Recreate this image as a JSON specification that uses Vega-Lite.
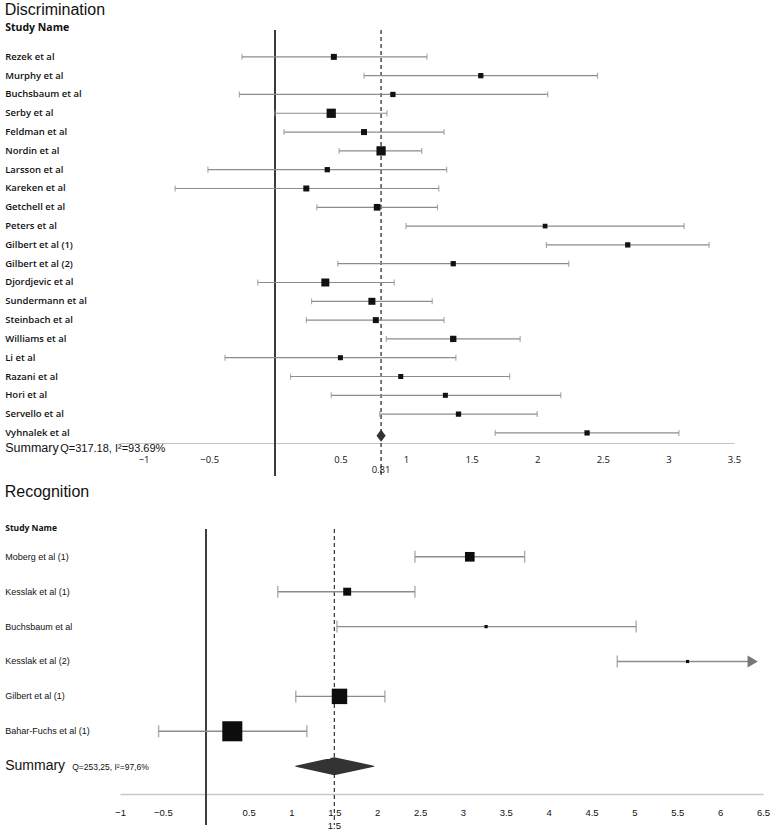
{
  "$schema": "https://vega.github.io/schema/vega-lite/v6.json",
  "background": "white",
  "padding": {"left": 4, "top": 2, "right": 0, "bottom": 0},
  "columns": 1,
  "spacing": 6,
  "config": {"view": {"stroke": null}},
  "datasets": {
    "disc": [
      {"study": "Rezek et al", "type": "study", "lower": -0.25, "est": 0.45, "upper": 1.16, "weight": 4.4},
      {"study": "Murphy et al", "type": "study", "lower": 0.68, "est": 1.57, "upper": 2.46, "weight": 3.4},
      {"study": "Buchsbaum et al", "type": "study", "lower": -0.27, "est": 0.9, "upper": 2.08, "weight": 3.4},
      {"study": "Serby et al", "type": "study", "lower": 0.0, "est": 0.43, "upper": 0.855, "weight": 10.5},
      {"study": "Feldman et al", "type": "study", "lower": 0.07, "est": 0.68, "upper": 1.29, "weight": 4.4},
      {"study": "Nordin et al", "type": "study", "lower": 0.49, "est": 0.81, "upper": 1.12, "weight": 10.5},
      {"study": "Larsson et al", "type": "study", "lower": -0.51, "est": 0.4, "upper": 1.31, "weight": 3.4},
      {"study": "Kareken et al", "type": "study", "lower": -0.76, "est": 0.24, "upper": 1.25, "weight": 4.4},
      {"study": "Getchell et al", "type": "study", "lower": 0.32, "est": 0.78, "upper": 1.24, "weight": 5.5},
      {"study": "Peters et al", "type": "study", "lower": 1.0, "est": 2.06, "upper": 3.12, "weight": 2.7},
      {"study": "Gilbert et al (1)", "type": "study", "lower": 2.07, "est": 2.69, "upper": 3.31, "weight": 3.4},
      {"study": "Gilbert et al (2)", "type": "study", "lower": 0.48, "est": 1.36, "upper": 2.24, "weight": 3.4},
      {"study": "Djordjevic et al", "type": "study", "lower": -0.13, "est": 0.385, "upper": 0.91, "weight": 7.8},
      {"study": "Sundermann et al", "type": "study", "lower": 0.28, "est": 0.74, "upper": 1.2, "weight": 6.0},
      {"study": "Steinbach et al", "type": "study", "lower": 0.24, "est": 0.77, "upper": 1.29, "weight": 4.4},
      {"study": "Williams et al", "type": "study", "lower": 0.85, "est": 1.36, "upper": 1.87, "weight": 4.9},
      {"study": "Li et al", "type": "study", "lower": -0.38, "est": 0.5, "upper": 1.38, "weight": 3.1},
      {"study": "Razani et al", "type": "study", "lower": 0.12, "est": 0.96, "upper": 1.79, "weight": 3.1},
      {"study": "Hori et al", "type": "study", "lower": 0.43, "est": 1.3, "upper": 2.18, "weight": 3.1},
      {"study": "Servello et al", "type": "study", "lower": 0.8, "est": 1.4, "upper": 2.0, "weight": 3.4},
      {"study": "Vyhnalek et al", "type": "study", "lower": 1.68, "est": 2.38, "upper": 3.08, "weight": 3.4},
      {"study": "Summary", "type": "summary", "lower": 0.775, "est": 0.81, "upper": 0.845}
    ],
    "rec": [
      {"study": "Moberg et al (1)", "type": "study", "lower": 2.44, "est": 3.08, "upper": 3.72, "weight": 11.4},
      {"study": "Kesslak et al (1)", "type": "study", "lower": 0.84, "est": 1.65, "upper": 2.44, "weight": 7.7},
      {"study": "Buchsbaum et al", "type": "study", "lower": 1.53, "est": 3.27, "upper": 5.02, "weight": 1.3},
      {"study": "Kesslak et al (2)", "type": "study", "lower": 4.8, "est": 5.62, "upper": 6.38, "weight": 1.2, "truncated": true},
      {"study": "Gilbert et al (1)", "type": "study", "lower": 1.05, "est": 1.56, "upper": 2.09, "weight": 29.2},
      {"study": "Bahar-Fuchs et al (1)", "type": "study", "lower": -0.55, "est": 0.31, "upper": 1.18, "weight": 49.2},
      {"study": "Summary", "type": "summary", "lower": 1.05, "est": 1.5, "upper": 1.96}
    ]
  },
  "concat": [
    {
      "title": {"text": "Discrimination", "anchor": "start", "frame": "bounds", "font": "Liberation Sans", "fontSize": 16, "fontWeight": "normal", "color": "#111", "offset": 4},
      "width": 614,
      "height": 446,
      "data": {"name": "disc"},
      "layer": [
        {
          "mark": {"type": "rule", "color": "#3c3c3c", "strokeWidth": 1.4},
          "encoding": {
            "x": {"datum": 0, "type": "quantitative",
              "scale": {"domain": [-1.18, 3.5], "nice": false, "zero": false},
              "axis": {"values": [-1, -0.5, 0.5, 1, 1.5, 2, 2.5, 3, 3.5], "format": "~g", "ticks": false, "grid": false,
                "domainColor": "#c4c4c4", "domainWidth": 1, "offset": -33, "labelPadding": 11,
                "labelFont": "Open Sans", "labelFontSize": 9.5, "labelColor": "#111", "labelFlush": false, "labelOverlap": false,
                "title": "Q=317.18, I²=93.69%", "titleFont": "Liberation Sans", "titleFontSize": 11, "titleFontWeight": "normal",
                "titleColor": "#111", "titleX": -60.3, "titleY": 8, "titleAlign": "left", "titleBaseline": "alphabetic"}}
          }
        },
        {
          "transform": [{"filter": "datum.type === 'summary'"}],
          "mark": {"type": "rule", "color": "#333", "strokeWidth": 1.3, "strokeDash": [4, 3]},
          "encoding": {"x": {"field": "est", "type": "quantitative"}}
        },
        {
          "transform": [{"filter": "datum.type === 'study'"}],
          "mark": {"type": "rule", "color": "#8c8c8c", "strokeWidth": 1.2},
          "encoding": {
            "x": {"field": "lower", "type": "quantitative"},
            "x2": {"field": "upper"},
            "y": {"field": "study", "type": "nominal",
              "sort": ["Rezek et al", "Murphy et al", "Buchsbaum et al", "Serby et al", "Feldman et al", "Nordin et al", "Larsson et al", "Kareken et al", "Getchell et al", "Peters et al", "Gilbert et al (1)", "Gilbert et al (2)", "Djordjevic et al", "Sundermann et al", "Steinbach et al", "Williams et al", "Li et al", "Razani et al", "Hori et al", "Servello et al", "Vyhnalek et al", "Summary"],
              "scale": {"domain": ["Rezek et al", "Murphy et al", "Buchsbaum et al", "Serby et al", "Feldman et al", "Nordin et al", "Larsson et al", "Kareken et al", "Getchell et al", "Peters et al", "Gilbert et al (1)", "Gilbert et al (2)", "Djordjevic et al", "Sundermann et al", "Steinbach et al", "Williams et al", "Li et al", "Razani et al", "Hori et al", "Servello et al", "Vyhnalek et al", "Summary"], "paddingInner": 0, "paddingOuter": 0.86, "align": 0.54},
              "axis": {"title": "Study Name", "titleAngle": 0, "titleAlign": "left", "titleBaseline": "alphabetic", "titleX": -115.3, "titleY": 0,
                "titleFont": "Open Sans", "titleFontWeight": "bold", "titleFontSize": 10.5, "titleColor": "#111",
                "ticks": false, "domain": false, "grid": false, "labelAlign": "left", "labelPadding": 115.3, "labelColor": "#111",
                "labelOffset": {"condition": {"test": "datum.value === 'Summary'", "value": -4}, "value": 0},
                "labelFont": {"condition": {"test": "datum.value === 'Summary'", "value": "Liberation Sans"}, "value": "Open Sans"},
                "labelFontWeight": {"condition": {"test": "datum.value === 'Summary'", "value": "normal"}, "value": 600},
                "labelFontSize": {"condition": {"test": "datum.value === 'Summary'", "value": 12.5}, "value": 9.5}}}
          }
        },
        {
          "transform": [{"filter": "datum.type === 'study'"}],
          "mark": {"type": "tick", "color": "#8c8c8c", "thickness": 1.2, "size": 6},
          "encoding": {"x": {"field": "lower", "type": "quantitative"}, "y": {"field": "study", "type": "nominal"}}
        },
        {
          "transform": [{"filter": "datum.type === 'study' && !datum.truncated"}],
          "mark": {"type": "tick", "color": "#8c8c8c", "thickness": 1.2, "size": 6},
          "encoding": {"x": {"field": "upper", "type": "quantitative"}, "y": {"field": "study", "type": "nominal"}}
        },
        {
          "transform": [{"filter": "datum.type === 'study'"}],
          "mark": {"type": "point", "shape": "square", "filled": true, "color": "#111", "opacity": 1},
          "encoding": {
            "x": {"field": "est", "type": "quantitative"},
            "y": {"field": "study", "type": "nominal"},
            "size": {"field": "weight", "type": "quantitative", "scale": {"domain": [0, 100], "range": [0, 817]}, "legend": null}
          }
        },
        {
          "transform": [{"filter": "datum.type === 'summary'"}],
          "mark": {"type": "point", "shape": "M0,-1L0.75,0L0,1L-0.75,0Z", "filled": true, "color": "#333", "opacity": 1, "size": 150, "yOffset": -16},
          "encoding": {
            "x": {"field": "est", "type": "quantitative"},
            "y": {"field": "study", "type": "nominal"}
          }
        },
        {
          "transform": [{"filter": "datum.type === 'summary'"}],
          "mark": {"type": "text", "font": "Open Sans", "fontSize": 9.5, "color": "#111", "dy": 18},
          "encoding": {
            "x": {"field": "est", "type": "quantitative"},
            "y": {"field": "study", "type": "nominal"},
            "text": {"field": "est", "type": "quantitative", "format": ".2f"}
          }
        }
      ]
    },
    {
      "title": {"text": "Recognition", "anchor": "start", "frame": "bounds", "font": "Liberation Sans", "fontSize": 16, "fontWeight": "normal", "color": "#111", "offset": 24},
      "width": 643,
      "height": 296,
      "data": {"name": "rec"},
      "layer": [
        {
          "mark": {"type": "rule", "color": "#3c3c3c", "strokeWidth": 1.3},
          "encoding": {
            "x": {"datum": 0, "type": "quantitative",
              "scale": {"domain": [-1, 6.5], "nice": false, "zero": false},
              "axis": {"values": [-1, -0.5, 0.5, 1, 1.5, 2, 2.5, 3, 3.5, 4, 4.5, 5, 5.5, 6, 6.5], "format": "~g", "ticks": false, "grid": false,
                "domainColor": "#c8c8c8", "domainWidth": 1.5, "offset": -31, "labelPadding": 13,
                "labelFont": "Liberation Sans", "labelFontSize": 9.5, "labelColor": "#111", "labelFlush": false, "labelOverlap": false,
                "title": "Q=253,25, I²=97,6%", "titleFont": "Liberation Sans", "titleFontSize": 8.5, "titleFontWeight": "normal",
                "titleColor": "#111", "titleX": -48.3, "titleY": -25, "titleAlign": "left", "titleBaseline": "alphabetic"}}
          }
        },
        {
          "transform": [{"filter": "datum.type === 'summary'"}],
          "mark": {"type": "rule", "color": "#333", "strokeWidth": 1.2, "strokeDash": [4, 3]},
          "encoding": {"x": {"field": "est", "type": "quantitative"}}
        },
        {
          "transform": [{"filter": "datum.type === 'study'"}],
          "mark": {"type": "rule", "color": "#8c8c8c", "strokeWidth": 1.4},
          "encoding": {
            "x": {"field": "lower", "type": "quantitative"},
            "x2": {"field": "upper"},
            "y": {"field": "study", "type": "nominal",
              "sort": ["Moberg et al (1)", "Kesslak et al (1)", "Buchsbaum et al", "Kesslak et al (2)", "Gilbert et al (1)", "Bahar-Fuchs et al (1)", "Summary"],
              "scale": {"domain": ["Moberg et al (1)", "Kesslak et al (1)", "Buchsbaum et al", "Kesslak et al (2)", "Gilbert et al (1)", "Bahar-Fuchs et al (1)", "Summary"], "paddingInner": 0, "paddingOuter": 0.741, "align": 0.2},
              "axis": {"title": "Study Name", "titleAngle": 0, "titleAlign": "left", "titleBaseline": "alphabetic", "titleX": -115.3, "titleY": 1.5,
                "titleFont": "Open Sans", "titleFontWeight": "bold", "titleFontSize": 8.5, "titleColor": "#111",
                "ticks": false, "domain": false, "grid": false, "labelAlign": "left", "labelPadding": 115.3, "labelColor": "#111",
                "labelFont": "Liberation Sans",
                "labelFontSize": {"condition": {"test": "datum.value === 'Summary'", "value": 14}, "value": 9}}}
          }
        },
        {
          "transform": [{"filter": "datum.type === 'study'"}],
          "mark": {"type": "tick", "color": "#8c8c8c", "thickness": 1.4, "size": 12},
          "encoding": {"x": {"field": "lower", "type": "quantitative"}, "y": {"field": "study", "type": "nominal"}}
        },
        {
          "transform": [{"filter": "datum.type === 'study' && !datum.truncated"}],
          "mark": {"type": "tick", "color": "#8c8c8c", "thickness": 1.4, "size": 12},
          "encoding": {"x": {"field": "upper", "type": "quantitative"}, "y": {"field": "study", "type": "nominal"}}
        },
        {
          "transform": [{"filter": "datum.truncated"}],
          "mark": {"type": "point", "shape": "triangle-right", "filled": true, "color": "#777", "size": 140, "opacity": 1},
          "encoding": {"x": {"field": "upper", "type": "quantitative"}, "y": {"field": "study", "type": "nominal"}}
        },
        {
          "transform": [{"filter": "datum.type === 'study'"}],
          "mark": {"type": "point", "shape": "square", "filled": true, "color": "#0d0d0d", "opacity": 1},
          "encoding": {
            "x": {"field": "est", "type": "quantitative"},
            "y": {"field": "study", "type": "nominal"},
            "size": {"field": "weight", "type": "quantitative", "scale": {"domain": [0, 100], "range": [0, 1371]}, "legend": null}
          }
        },
        {
          "transform": [{"filter": "datum.type === 'summary'"}, {"fold": ["lower", "est", "upper"], "as": ["k", "xv"]}],
          "mark": {"type": "trail", "color": "#333"},
          "encoding": {
            "x": {"field": "xv", "type": "quantitative"},
            "y": {"field": "study", "type": "nominal"},
            "order": {"field": "xv", "type": "quantitative"},
            "size": {"condition": {"test": "datum.k === 'est'", "value": 18}, "value": 0}
          }
        },
        {
          "transform": [{"filter": "datum.type === 'summary'"}],
          "mark": {"type": "text", "font": "Liberation Sans", "fontSize": 9.5, "color": "#111", "dy": 60},
          "encoding": {
            "x": {"field": "est", "type": "quantitative"},
            "y": {"field": "study", "type": "nominal"},
            "text": {"field": "est", "type": "quantitative", "format": ".1f"}
          }
        }
      ]
    }
  ]
}
